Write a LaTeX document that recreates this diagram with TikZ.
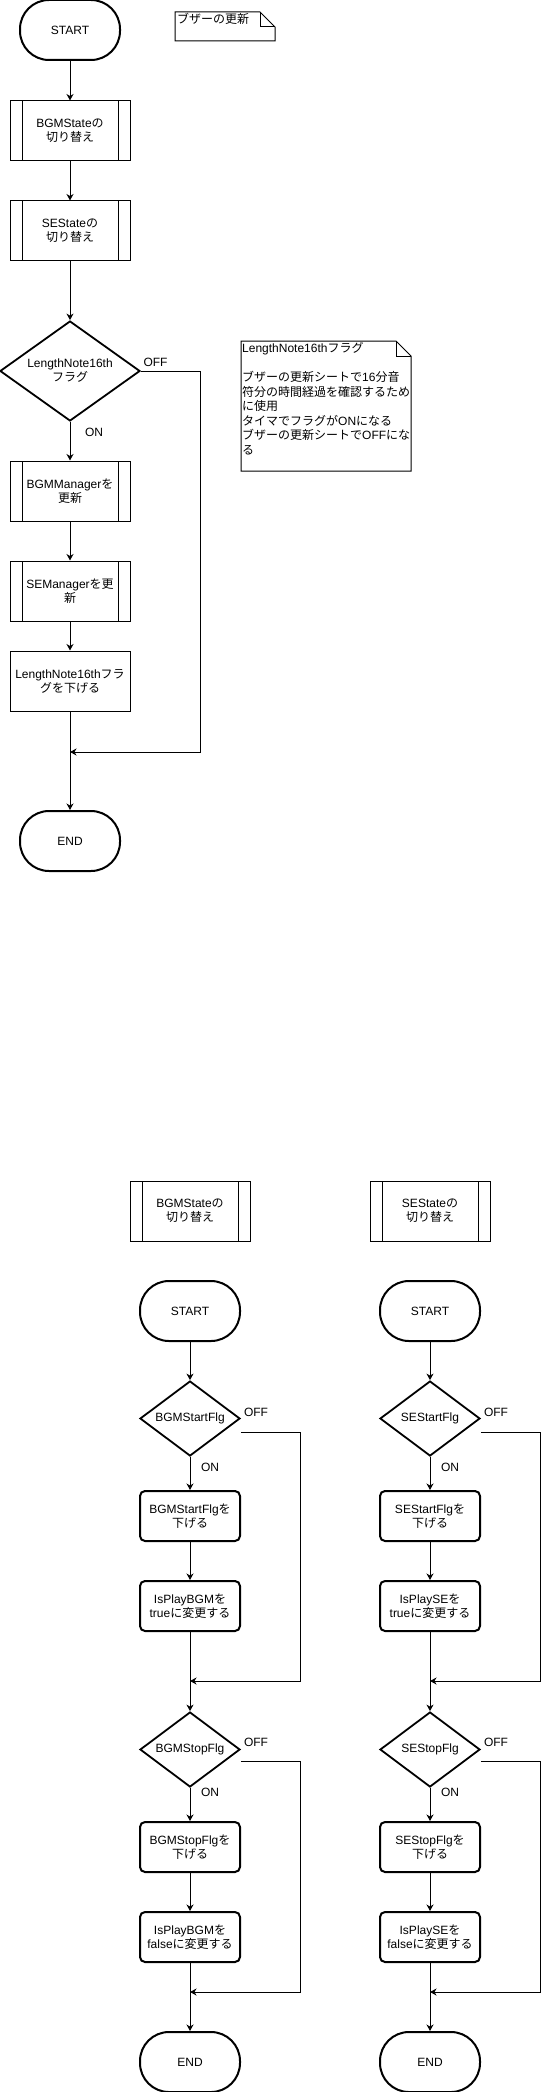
\documentclass[tikz,border=0pt]{standalone}
\usepackage{fontspec}
\setmainfont{Liberation Sans}
\newfontfamily\jp{Noto Sans CJK JP}
\usepackage{tikz}
\usetikzlibrary{arrows.meta,positioning,calc,shapes.geometric}
\tikzset{
  term/.style={draw,rounded corners=29pt,line width=2pt,minimum width=100pt,minimum height=60pt,inner sep=0pt},
  subproc/.style={draw,line width=1pt,minimum width=120pt,minimum height=60pt,inner sep=0pt,align=center,
    path picture={
      \draw[line width=1pt] ([xshift=12pt]path picture bounding box.north west) -- ([xshift=12pt]path picture bounding box.south west);
      \draw[line width=1pt] ([xshift=-12pt]path picture bounding box.north east) -- ([xshift=-12pt]path picture bounding box.south east);
    }},
  stepbox/.style={draw,line width=1pt,minimum width=120pt,minimum height=60pt,inner sep=0pt,align=center},
  procbox/.style={draw,rounded corners=5pt,line width=2pt,minimum width=100pt,minimum height=50pt,inner sep=0pt,align=center},
  decision/.style={draw,diamond,line width=1.8pt,inner sep=0pt,align=center},
  notebox/.style={draw,line width=1pt,line join=miter},
  notetext/.style={inner sep=0pt,align=left,font=\fontsize{12pt}{14.5pt}\selectfont},
  arr/.style={-{Stealth[length=6.5pt,width=7pt,inset=2pt]},line width=1pt},
  flow/.style={line width=1pt}
}

\begin{document}
\begin{tikzpicture}[x=1pt,y=-1pt,every node/.style={font=\fontsize{12pt}{14pt}\selectfont}]
  \useasboundingbox (0,0) rectangle (551,2092);
  \node[term] (start) at (70,30) {START};
  \node[subproc] (bgmst) at (70,131) {BGMState{\jp の}\\{\jp 切り替え}};
  \node[subproc] (sest) at (70,231) {SEState{\jp の}\\{\jp 切り替え}};
  \node[decision,shape aspect=1.4,minimum width=140pt,minimum height=100pt] (flag) at (70,371) {LengthNote16th\\{\jp フラグ}};
  \node[subproc] (bgmmgr) at (70,491) {BGMManager{\jp を}\\{\jp 更新}};
  \node[subproc] (semgr) at (70,591) {SEManager{\jp を更}\\{\jp 新}};
  \node[stepbox] (lower) at (70,681) {LengthNote16th{\jp フラ}\\{\jp グを下げる}};
  \node[term] (end) at (70,841) {END};
  \coordinate (mrg) at (70,752);
  \node (off) at (155.5,362) {OFF};
  \node (on) at (94,432) {ON};
  \draw[arr] (start) -- (bgmst);
  \draw[arr] (bgmst) -- (sest);
  \draw[arr] (sest) -- (flag);
  \draw[arr] (flag) -- (bgmmgr);
  \draw[arr] (bgmmgr) -- (semgr);
  \draw[arr] (semgr) -- (lower);
  \draw[arr] (lower) -- (end);
  \draw[arr] (flag.east) -- ++(60,0) |- (mrg);

  \draw[notebox] (175,12) -- (260,12) -- (275,27) -- (275,41) -- (175,41) -- cycle;
  \draw[notebox] (260,12) -- (260,27) -- (275,27);
  \node[notetext,anchor=north west] (title) at (177,13) {{\jp ブザーの更新}};
  \draw[notebox] (241,341) -- (396,341) -- (411,356) -- (411,471) -- (241,471) -- cycle;
  \draw[notebox] (396,341) -- (396,356) -- (411,356);
  \node[notetext,anchor=north west] (memo) at (242,342.5) {LengthNote16th{\jp フラグ}\\[14.5pt]
    {\jp ブザーの更新シートで}16{\jp 分音}\\
    {\jp 符分の時間経過を確認するため}\\
    {\jp に使用}\\
    {\jp タイマでフラグが}ON{\jp になる}\\
    {\jp ブザーの更新シートで}OFF{\jp にな}\\
    {\jp る}};

  \foreach \x/\lab/\id in {190/BGM/b,430/SE/s}{
    \node[subproc] (\id-state) at (\x,1211) {\lab State{\jp の}\\{\jp 切り替え}};
    \node[term] (\id-start) at (\x,1311) {START};
    \node[decision,shape aspect=1.333,minimum width=100pt,minimum height=75pt] (\id-sflg) at (\x,1418.5) {\lab StartFlg};
    \node[procbox] (\id-sdown) at (\x,1516) {\lab StartFlg{\jp を}\\{\jp 下げる}};
    \node[procbox] (\id-play) at (\x,1606) {IsPlay\lab{\jp を}\\true{\jp に変更する}};
    \coordinate (\id-m1) at (\x,1681);
    \node[decision,shape aspect=1.333,minimum width=100pt,minimum height=75pt] (\id-pflg) at (\x,1749.5) {\lab StopFlg};
    \node[procbox] (\id-pdown) at (\x,1847) {\lab StopFlg{\jp を}\\{\jp 下げる}};
    \node[procbox] (\id-stop) at (\x,1937) {IsPlay\lab{\jp を}\\false{\jp に変更する}};
    \coordinate (\id-m2) at (\x,1992);
    \node[term] (\id-end) at (\x,2062) {END};
    \node (\id-off1) at (\x+66,1412) {OFF};
    \node (\id-on1) at (\x+20,1467) {ON};
    \node (\id-off2) at (\x+66,1742) {OFF};
    \node (\id-on2) at (\x+20,1792) {ON};
    \draw[arr] (\id-start) -- (\id-sflg);
    \draw[arr] (\id-sflg) -- (\id-sdown);
    \draw[arr] (\id-sdown) -- (\id-play);
    \draw[arr] (\id-play) -- (\id-pflg);
    \draw[arr] (\id-pflg) -- (\id-pdown);
    \draw[arr] (\id-pdown) -- (\id-stop);
    \draw[arr] (\id-stop) -- (\id-end);
    \draw[arr] ([yshift=-13.5pt]\id-sflg.east) -- ++(60,0) |- (\id-m1);
    \draw[arr] ([yshift=-11.5pt]\id-pflg.east) -- ++(60,0) |- (\id-m2);
  }
\end{tikzpicture}
\end{document}
